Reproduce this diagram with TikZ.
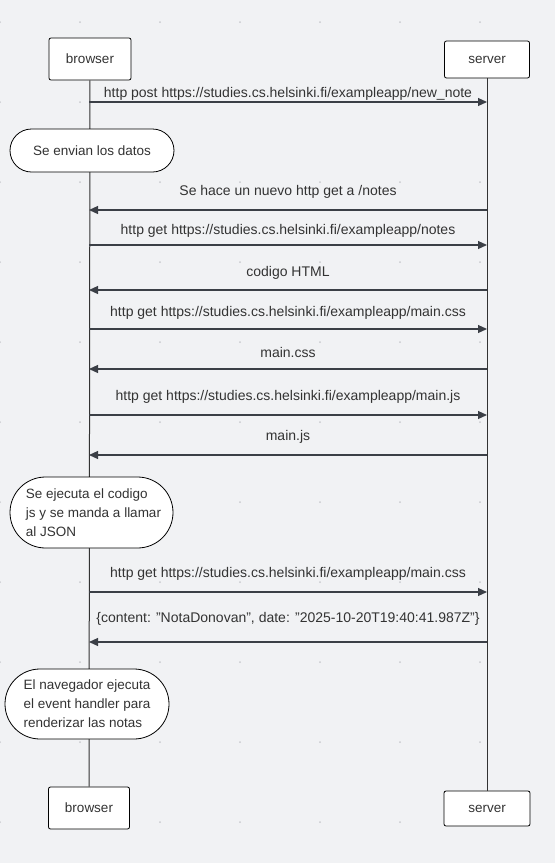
\documentclass[tikz,border=0pt]{standalone}
\usepackage{fontspec}
\setmainfont{Liberation Sans}
\usepackage{xcolor}
\usepackage{tikz}
\usetikzlibrary{arrows.meta,shapes.misc}

\definecolor{bgcol}{HTML}{F1F2F4}
\definecolor{dotcol}{HTML}{C9CACE}
\definecolor{txtcol}{HTML}{333333}
\definecolor{linecol}{HTML}{3B3F46}

\tikzset{
	actor/.style={draw=black, fill=white, rounded corners=2pt, line width=0.8pt,
		text=txtcol, font=\fontsize{13.5}{16}\selectfont},
	notebox/.style={draw=black, fill=white, rounded rectangle, line width=0.8pt,
		text=txtcol, font=\fontsize{13.5}{19}\selectfont, inner sep=0pt},
	msg/.style={draw=linecol, line width=1.2pt, -{Triangle[length=9pt,width=8pt]}},
	lbl/.style={text=txtcol, font=\fontsize{14}{16}\selectfont, inner sep=0pt,
		anchor=base},
	life/.style={draw=txtcol, line width=1pt}
}

\begin{document}
\begin{tikzpicture}[x=1pt,y=1pt]
		\fill[bgcol] (0,0) rectangle (555,-863);
		\useasboundingbox (0,0) rectangle (555,-863);
		\foreach \i in {0,80,...,480}
			\foreach \j in {22,102,...,822}
				\fill[dotcol] (\i,-\j) circle (1pt);
		% actors
		\node[actor, minimum width=82pt, minimum height=42pt] (browserTop) at (90,-59) {browser};
		\node[actor, minimum width=85pt, minimum height=37pt] (serverTop) at (487,-59.5) {server};
		\node[actor, minimum width=81pt, minimum height=42pt] (browserBot) at (89,-808) {browser};
		\node[actor, minimum width=86pt, minimum height=35pt] (serverBot) at (487,-808.5) {server};
		\draw[life] (browserTop) -- (browserBot);
		\draw[life] (serverTop) -- (serverBot);
		% notes
		\node[notebox, minimum width=164pt, minimum height=43pt] (note1) at (92,-150.5) {Se envian los datos};
		\node[notebox, minimum width=163pt, minimum height=71pt, align=left] (note2) at (91.5,-512.5)
			{\hspace*{4pt}Se ejecuta el codigo\\\hspace*{4pt}js y se manda a llamar\\\hspace*{4pt}al JSON};
		\node[notebox, minimum width=164pt, minimum height=70pt, align=left] (note3) at (87,-704)
			{El navegador ejecuta\\el event handler para\\renderizar las notas};
		% message points
		\foreach \n/\y in {1/102,2/210,3/245,4/290,5/329,6/369,7/415,8/455,9/592,10/642}{
			\coordinate (b\n) at (89,-\y);
			\coordinate (s\n) at (487,-\y);
		}
		\draw[msg] (b1) -- node[lbl, yshift=5pt] {http post https://studies.cs.helsinki.fi/exampleapp/new\_note} (s1);
		\draw[msg] (s2) -- node[lbl, yshift=15pt] {Se hace un nuevo http get a /notes} (b2);
		\draw[msg] (b3) -- node[lbl, yshift=11pt] {http get https://studies.cs.helsinki.fi/exampleapp/notes} (s3);
		\draw[msg] (s4) -- node[lbl, yshift=14pt] {codigo HTML} (b4);
		\draw[msg] (b5) -- node[lbl, yshift=13pt] {http get https://studies.cs.helsinki.fi/exampleapp/main.css} (s5);
		\draw[msg] (s6) -- node[lbl, yshift=12pt] {main.css} (b6);
		\draw[msg] (b7) -- node[lbl, yshift=15pt] {http get https://studies.cs.helsinki.fi/exampleapp/main.js} (s7);
		\draw[msg] (s8) -- node[lbl, yshift=15pt] {main.js} (b8);
		\draw[msg] (b9) -- node[lbl, yshift=15pt] {http get https://studies.cs.helsinki.fi/exampleapp/main.css} (s9);
		\draw[msg] (s10) -- node[lbl, yshift=20pt] {\{content: \symbol{34}NotaDonovan\symbol{34}, date: \symbol{34}2025-10-20T19:40:41.987Z\symbol{34}\}} (b10);
	\end{tikzpicture}
\end{document}
